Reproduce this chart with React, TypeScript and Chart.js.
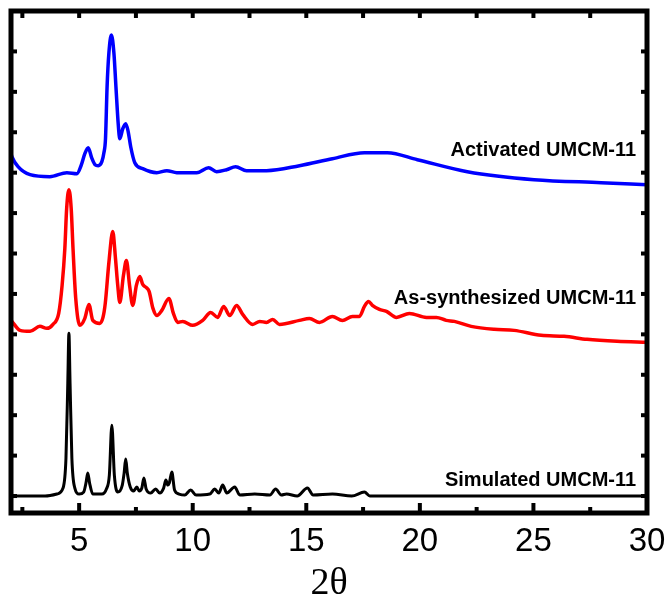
import React, { useEffect, useRef } from "react";
import { Chart, registerables } from "chart.js";

Chart.register(...registerables);

// 2θ tick values
const X_MAJOR = [5, 10, 15, 20, 25, 30];
const X_MINOR = [2.5, 7.5, 12.5, 17.5, 22.5, 27.5];
// intensity tick marks (unlabelled)
const Y_TICKS = [17, 57.5, 98, 138.5, 179, 219.5, 260, 300.5, 341, 381.5, 422, 462.5, 503];

// Activated UMCM-11 (blue)
const ACT_X = [2.0, 2.04, 2.31, 2.84, 3.71, 4.46, 4.9, 5.1, 5.25, 5.4, 5.55, 5.7, 5.84, 6.0, 6.09, 6.16, 6.23, 6.31, 6.42, 6.53, 6.62, 6.72, 6.79, 6.92, 7.05, 7.16, 7.27, 7.45, 7.8, 8.42, 8.86, 9.3, 10.18, 10.7, 11.05, 11.49, 11.89, 12.37, 13.25, 14.7, 16.15, 17.56, 18.57, 19.89, 22.09, 25.03, 27.98, 30.0];
const ACT_Y = [360, 357, 347, 339, 337, 341, 340, 349, 360, 366, 356, 349, 348, 352, 361, 375, 427, 461, 479, 461, 427, 390, 375, 385, 390, 382, 367, 351, 345, 341, 343, 341, 341, 346, 342, 344, 347, 343, 343, 348, 355, 361, 361, 354, 342, 334, 331, 329];

// As-synthesized UMCM-11 (red)
const SYN_X = [2.0, 2.04, 2.4, 2.84, 3.27, 3.58, 3.85, 4.1, 4.25, 4.37, 4.45, 4.55, 4.65, 4.73, 4.85, 5.03, 5.25, 5.43, 5.6, 5.91, 6.05, 6.15, 6.31, 6.48, 6.6, 6.7, 6.79, 6.95, 7.08, 7.22, 7.36, 7.52, 7.67, 7.8, 7.95, 8.08, 8.25, 8.42, 8.64, 8.95, 9.15, 9.34, 9.56, 10.0, 10.44, 10.79, 11.1, 11.36, 11.63, 11.93, 12.2, 12.64, 12.95, 13.25, 13.52, 13.82, 14.7, 15.14, 15.58, 16.15, 16.59, 17.03, 17.34, 17.56, 17.74, 17.91, 18.22, 18.53, 18.97, 19.54, 20.29, 20.73, 21.16, 21.52, 22.26, 23.27, 24.15, 25.34, 26.35, 27.36, 28.68, 30.0];
const SYN_Y = [193, 192, 183, 182, 187, 185, 189, 200, 228, 265, 305, 324, 305, 265, 215, 188, 195, 209, 193, 190, 196, 210, 251, 282, 255, 228, 211, 238, 253, 228, 208, 228, 237, 229, 226, 222, 205, 198, 203, 215, 200, 191, 192, 188, 193, 201, 196, 207, 198, 208, 199, 189, 192, 191, 194, 189, 193, 195, 191, 197, 193, 197, 197, 207, 212, 208, 204, 202, 196, 200, 196, 196, 193, 192, 187, 184, 183, 178, 177, 174, 172, 171];

// Simulated UMCM-11 (black)
const SIM_X = [2.0, 3.5, 4.02, 4.29, 4.42, 4.5, 4.55, 4.6, 4.68, 4.81, 5.0, 5.2, 5.3, 5.38, 5.46, 5.6, 6.0, 6.2, 6.33, 6.44, 6.55, 6.7, 6.9, 6.98, 7.05, 7.12, 7.25, 7.4, 7.54, 7.65, 7.76, 7.85, 7.95, 8.15, 8.37, 8.55, 8.72, 8.82, 8.9, 8.97, 9.08, 9.2, 9.4, 9.65, 9.91, 10.15, 10.75, 10.97, 11.15, 11.32, 11.5, 11.85, 12.07, 12.73, 13.4, 13.65, 13.9, 14.13, 14.6, 15.05, 15.3, 16.15, 17.0, 17.56, 17.8, 30.0];
const SIM_Y = [17, 17, 19, 25, 55, 130, 180, 130, 55, 25, 19, 21, 30, 40, 30, 19, 19, 24, 38, 88, 38, 21, 28, 40, 54, 40, 26, 22, 26, 22, 25, 35, 24, 20, 24, 20, 25, 33, 28, 30, 41, 23, 19, 18, 23, 18, 19, 24, 20, 28, 20, 26, 18, 19, 18, 24, 18, 19, 17, 25, 18, 19, 17, 21, 17, 17];

const SERIES_LABELS = ["Activated UMCM-11", "As-synthesized UMCM-11", "Simulated UMCM-11"];
const LABEL_X = 29.52;
const LABEL_Y = [358, 209, 27];

const toPoints = (xs: number[], ys: number[]) => xs.map((x, i) => ({ x, y: ys[i] }));

const framePlugin = {
  id: "frame",
  afterDatasetsDraw(chart: any) {
    const { ctx, chartArea, scales } = chart;
    const { left, right, top, bottom } = chartArea;
    const x = scales.x;
    const y = scales.y;
    const seg = (x1: number, y1: number, x2: number, y2: number) => {
      ctx.beginPath();
      ctx.moveTo(x1, y1);
      ctx.lineTo(x2, y2);
      ctx.stroke();
    };
    ctx.save();
    ctx.strokeStyle = "#000";
    ctx.lineWidth = 4;
    X_MAJOR.forEach((v) => {
      const px = x.getPixelForValue(v);
      seg(px, bottom, px, bottom - 10);
      seg(px, top, px, top + 7);
    });
    X_MINOR.forEach((v) => {
      const px = x.getPixelForValue(v);
      seg(px, bottom, px, bottom - 6);
      seg(px, top, px, top + 7);
    });
    Y_TICKS.forEach((v) => {
      const py = y.getPixelForValue(v);
      seg(left, py, left + 6, py);
      seg(right, py, right - 6, py);
    });
    ctx.lineWidth = 5;
    ctx.strokeRect(left, top, right - left, bottom - top);
    ctx.fillStyle = "#000";
    ctx.font = 'bold 20px "Liberation Sans", Arial, sans-serif';
    ctx.textAlign = "right";
    ctx.textBaseline = "alphabetic";
    SERIES_LABELS.forEach((t, i) => {
      ctx.fillText(t, x.getPixelForValue(LABEL_X), y.getPixelForValue(LABEL_Y[i]));
    });
    ctx.restore();
  },
};

export default function App() {
  const ref = useRef<HTMLCanvasElement | null>(null);
  useEffect(() => {
    if (!ref.current) return;
    const chart = new Chart(ref.current, {
      type: "line",
      data: {
        datasets: [
          { data: toPoints(ACT_X, ACT_Y), borderColor: "#0000ff", borderWidth: 3.5 },
          { data: toPoints(SYN_X, SYN_Y), borderColor: "#ff0000", borderWidth: 3.5 },
          { data: toPoints(SIM_X, SIM_Y), borderColor: "#000000", borderWidth: 3 },
        ] as any,
      },
      options: {
        animation: false,
        responsive: false,
        devicePixelRatio: 1,
        layout: { padding: { left: 11, top: 11, right: 23, bottom: 0 } },
        elements: {
          point: { radius: 0 },
          line: { tension: 0.4, cubicInterpolationMode: "monotone", fill: false },
        },
        plugins: { legend: { display: false }, tooltip: { enabled: false } },
        scales: {
          x: {
            type: "linear",
            min: 2,
            max: 30,
            position: "bottom",
            afterBuildTicks: (s: any) => {
              s.ticks = X_MAJOR.map((v) => ({ value: v }));
            },
            afterFit: (s: any) => {
              s.paddingLeft = 0;
              s.paddingRight = 0;
              s.height = 94;
            },
            grid: { display: false, drawTicks: false, tickLength: 0 },
            border: { display: false },
            ticks: {
              color: "#000",
              font: { family: '"Liberation Sans", Arial, sans-serif', size: 33 },
              padding: 9,
              maxRotation: 0,
              autoSkip: false,
            },
            title: {
              display: true,
              text: "2θ",
              color: "#000",
              font: { family: '"Liberation Serif", "Times New Roman", serif', size: 38 },
              padding: { top: 0, bottom: 0 },
            },
          },
          y: { type: "linear", min: 0, max: 503, display: false },
        },
      } as any,
      plugins: [framePlugin],
    });
    return () => chart.destroy();
  }, []);
  return (
    <div style={{ position: "absolute", left: 0, top: 0, width: 670, height: 607, background: "#fff" }}>
      <canvas ref={ref} width={670} height={607} style={{ display: "block" }} />
    </div>
  );
}
